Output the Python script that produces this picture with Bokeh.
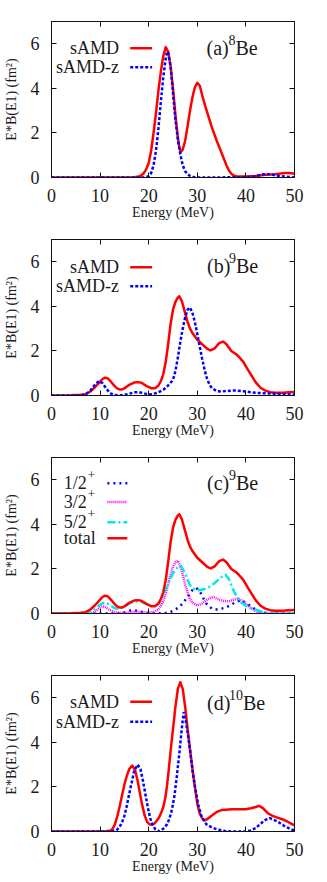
from bokeh.plotting import figure
from bokeh.models import Range1d, FixedTicker, LinearAxis, Label, Arrow, CustomJSTickFormatter
from bokeh.layouts import column
from bokeh.embed import file_html
from bokeh.resources import INLINE

# ---------------- data ----------------
x_ticks = [0, 10, 20, 30, 40, 50]
y_ticks = [0, 2, 4, 6]
x_label = "Energy (MeV)"
y_label = "E*B(E1) (fm²)"

# (a) 8Be
a_samd_E = [0, 16, 17, 18, 18.5, 19, 19.5, 20, 20.5, 21, 21.5, 22, 22.5, 23, 23.5, 24, 24.5, 25, 25.5, 26,
            26.3, 26.6, 27, 27.5, 28, 28.5, 29, 29.5, 30, 30.5, 31, 31.5, 32, 33, 34, 35, 36, 36.5, 37, 37.5,
            38, 40, 42, 44, 46, 48, 49, 50]
a_samd = [0, 0, 0.01, 0.04, 0.1, 0.2, 0.38, 0.65, 1.2, 2.0, 2.9, 3.9, 4.75, 5.45, 5.85, 5.65, 5.0, 4.0, 2.8, 1.8,
          1.35, 1.14, 1.25, 1.65, 2.3, 3.0, 3.6, 4.05, 4.25, 4.12, 3.7, 3.3, 2.95, 2.25, 1.65, 1.1, 0.55, 0.32, 0.17, 0.09,
          0.06, 0.05, 0.07, 0.12, 0.15, 0.2, 0.2, 0.17]
a_samdz_E = [0, 19, 19.5, 20, 20.5, 21, 21.5, 22, 22.5, 23, 23.5, 23.8, 24, 24.5, 25, 25.5, 26, 26.5, 27, 27.5,
             28, 28.5, 29, 30, 40, 41, 42, 43, 44, 45, 46, 47, 48, 49, 50]
a_samdz = [0, 0, 0.02, 0.06, 0.2, 0.55, 1.2, 2.2, 3.4, 4.5, 5.35, 5.65, 5.6, 5.0, 3.8, 2.6, 1.7, 1.05, 0.55, 0.28,
           0.15, 0.07, 0.02, 0, 0.01, 0.03, 0.06, 0.12, 0.15, 0.15, 0.1, 0.06, 0.04, 0.02, 0]

# (b) 9Be
b_samd_E = [0, 4, 6, 7, 8, 9, 10, 10.5, 11, 11.5, 12, 12.5, 13, 13.5, 14, 14.5, 15, 16, 17, 17.8,
            18.5, 19.5, 20.5, 21.3, 22, 22.5, 23, 23.5, 24, 24.5, 25, 25.5, 26, 26.3, 26.8, 27.3, 28, 28.5, 29, 30,
            31, 32, 32.7, 33.5, 34.5, 35.3, 36, 37, 38, 38.5, 39.5, 40.3, 41, 42, 43, 44, 45, 46, 47, 48, 49, 50]
b_samd = [0, 0.01, 0.03, 0.06, 0.18, 0.38, 0.62, 0.74, 0.8, 0.78, 0.68, 0.55, 0.42, 0.32, 0.27, 0.27, 0.32, 0.48, 0.58, 0.6,
          0.57, 0.43, 0.33, 0.32, 0.45, 0.65, 0.95, 1.5, 2.3, 3.2, 3.85, 4.2, 4.4, 4.45, 4.25, 3.85, 3.3, 3.0, 2.8, 2.5,
          2.3, 2.1, 2.02, 2.1, 2.35, 2.42, 2.3, 2.0, 1.85, 1.75, 1.5, 1.2, 0.95, 0.6, 0.35, 0.22, 0.15, 0.12, 0.12, 0.13, 0.15, 0.16]
b_samdz_E = [0, 6, 7, 8, 9, 9.8, 10.5, 11.3, 12, 12.7, 14, 15, 16, 17, 18, 19, 20, 21, 22, 23,
             24, 25, 25.5, 26, 26.5, 27, 27.5, 28, 28.5, 29, 29.5, 30, 30.5, 31, 31.5, 32, 32.5, 33, 34, 35,
             36, 37, 38, 39, 40, 41, 42, 44, 46, 48, 50]
b_samdz = [0, 0, 0.04, 0.22, 0.5, 0.65, 0.55, 0.3, 0.12, 0.03, 0, 0.03, 0.08, 0.14, 0.15, 0.1, 0.04, 0.07, 0.15, 0.25,
           0.45, 0.7, 1.1, 1.7, 2.4, 3.0, 3.5, 3.85, 3.95, 3.7, 3.3, 2.75, 2.2, 1.65, 1.15, 0.75, 0.5, 0.33, 0.2, 0.18,
           0.2, 0.22, 0.22, 0.2, 0.18, 0.15, 0.12, 0.1, 0.08, 0.06, 0.03]

# (c) 9Be, spin components
c_half_E = [0, 14, 15, 16, 17, 18, 19, 20, 22, 24, 25, 26, 27, 28, 29, 29.8, 30.5, 31.2, 32, 33,
            34, 35, 36, 37, 38, 38.9, 40, 41, 42, 43, 44, 45, 50]
c_half = [0, 0, 0.05, 0.12, 0.15, 0.1, 0.04, 0.01, 0, 0.03, 0.12, 0.25, 0.45, 0.75, 1.05, 1.15, 1.0, 0.7, 0.4, 0.22,
          0.18, 0.22, 0.28, 0.4, 0.52, 0.6, 0.48, 0.32, 0.18, 0.08, 0.03, 0, 0]
c_three_E = [0, 8, 9, 10, 10.5, 11, 12, 13, 14, 15, 16, 17, 18, 19, 20, 21, 22, 23, 23.5, 24,
             24.5, 25, 25.5, 26, 26.5, 27, 27.5, 28, 28.5, 29, 30, 31, 32, 33, 33.5, 34.5, 35.5, 36.5, 37.5, 38.3,
             39, 40, 41, 42, 43, 44, 45, 50]
c_three = [0, 0, 0.08, 0.28, 0.33, 0.3, 0.15, 0.06, 0.03, 0.03, 0.05, 0.08, 0.08, 0.05, 0.04, 0.07, 0.17, 0.55, 0.9, 1.3,
           1.75, 2.1, 2.3, 2.37, 2.1, 1.75, 1.3, 0.95, 0.65, 0.48, 0.36, 0.45, 0.62, 0.72, 0.72, 0.62, 0.56, 0.55, 0.62, 0.67,
           0.6, 0.42, 0.25, 0.1, 0.04, 0.01, 0, 0]
c_five_E = [0, 7, 8, 9, 10, 11, 12, 13, 14, 15, 16, 17, 18, 19, 20, 21, 22, 23, 24, 25,
            26, 26.6, 27.5, 28, 28.7, 29.5, 30.5, 31.5, 32.5, 33.5, 34.5, 35.3, 35.8, 36.5, 37.2, 38, 39, 40, 41, 42,
            43, 44, 45, 46, 47, 50]
c_five = [0, 0.01, 0.06, 0.2, 0.4, 0.5, 0.38, 0.24, 0.2, 0.3, 0.45, 0.54, 0.55, 0.48, 0.38, 0.32, 0.42, 0.8, 1.35, 1.8,
          2.1, 2.15, 1.8, 1.5, 1.2, 1.08, 1.04, 1.1, 1.2, 1.35, 1.55, 1.7, 1.74, 1.55, 1.15, 0.8, 0.5, 0.35, 0.24, 0.17,
          0.1, 0.05, 0.03, 0.01, 0, 0]
c_total_E = b_samd_E
c_total = b_samd

# (d) 10Be
d_samd_E = [0, 11, 12, 12.5, 13, 13.5, 14, 14.5, 15, 15.5, 16, 16.6, 17.2, 17.7, 18.2, 18.7, 19.2, 19.7, 20.2, 20.6,
            21.2, 22, 22.5, 23, 23.5, 24, 24.5, 25, 25.5, 26, 26.5, 27, 27.5, 28, 28.6, 29, 29.5, 30, 30.5, 31,
            31.5, 32, 33, 34, 35, 36, 37, 38, 39, 40, 41, 42, 42.7, 43.5, 44.5, 45.5, 46.5, 47.5, 48.5, 49.5, 50]
d_samd = [0, 0, 0.03, 0.1, 0.3, 0.65, 1.1, 1.6, 2.1, 2.5, 2.8, 2.96, 2.75, 2.3, 1.7, 1.15, 0.7, 0.42, 0.32, 0.3,
          0.36, 0.58, 0.8, 1.1, 1.6, 2.5, 3.6, 4.6, 5.6, 6.4, 6.7, 6.4, 5.6, 4.6, 3.5, 2.8, 2.0, 1.25, 0.8, 0.6,
          0.5, 0.55, 0.72, 0.88, 0.96, 0.98, 1.0, 1.0, 1.0, 1.0, 1.04, 1.1, 1.15, 1.05, 0.82, 0.7, 0.62, 0.55, 0.45, 0.33, 0.27]
d_samdz_E = [0, 12, 13, 13.5, 14, 14.5, 15, 15.5, 16, 16.5, 17, 17.7, 18.3, 18.8, 19.3, 19.8, 20.3, 20.8, 21.3, 22.2,
             23, 23.8, 24.3, 24.8, 25.3, 25.8, 26.3, 26.8, 27.2, 27.6, 28.1, 28.6, 29.1, 29.6, 30.2, 30.8, 31.5, 32, 33, 34,
             35, 36, 37, 40, 41, 42, 43, 44, 44.9, 45.5, 46.5, 47.5, 48.5, 49.5, 50]
d_samdz = [0, 0, 0.03, 0.08, 0.2, 0.4, 0.7, 1.15, 1.7, 2.2, 2.7, 3.0, 2.8, 2.3, 1.7, 1.1, 0.6, 0.3, 0.12, 0.0,
           0.12, 0.33, 0.6, 1.0, 1.6, 2.5, 3.5, 4.6, 5.36, 5.0, 4.3, 3.5, 2.6, 1.9, 1.2, 0.72, 0.42, 0.3, 0.18, 0.1,
           0.05, 0.01, 0, 0, 0.05, 0.15, 0.35, 0.52, 0.6, 0.55, 0.45, 0.3, 0.18, 0.08, 0.05]

# ---------------- style ----------------
FONT = "'Liberation Serif', 'Times New Roman', serif"
TXT = "#1a1a1a"
FRAME = "#111111"
RED, BLUE, MAG, CYAN = "#ff0000", "#0000ff", "#ff00ff", "#00e8e8"
LW = 2.5


def style_axis(ax, standoff):
    ax.major_tick_in = 5
    ax.major_tick_out = 0
    ax.minor_tick_in = 0
    ax.minor_tick_out = 0
    ax.axis_line_color = FRAME
    ax.major_tick_line_color = FRAME
    ax.major_label_standoff = standoff
    ax.major_label_text_font = FONT
    ax.major_label_text_font_size = "18px"
    ax.major_label_text_color = TXT
    ax.axis_label_text_font = FONT
    ax.axis_label_text_font_style = "normal"
    ax.axis_label_text_font_size = "14px"
    ax.axis_label_text_color = TXT


def hidden_axis(ticks):
    ax = LinearAxis(ticker=FixedTicker(ticks=ticks), formatter=CustomJSTickFormatter(code="return ''"))
    style_axis(ax, 0)
    ax.major_label_text_font_size = "1px"
    return ax


def base_fig(top_border):
    p = figure(frame_width=243, frame_height=156, x_range=Range1d(0, 50), y_range=Range1d(0, 7),
               output_backend="svg", toolbar_location=None,
               min_border_left=51, min_border_right=25, min_border_top=top_border, min_border_bottom=49,
               background_fill_color="white", border_fill_color="white")
    p.grid.visible = False
    p.outline_line_color = FRAME
    p.outline_line_width = 1
    p.xaxis.ticker = FixedTicker(ticks=x_ticks)
    p.yaxis.ticker = FixedTicker(ticks=y_ticks)
    style_axis(p.xaxis[0], 11)
    style_axis(p.yaxis[0], 12)
    p.xaxis.axis_label = x_label
    p.yaxis.axis_label = y_label
    p.xaxis.axis_label_standoff = 0
    p.yaxis.axis_label_standoff = 9
    p.add_layout(hidden_axis(x_ticks), "above")
    p.add_layout(hidden_axis(y_ticks), "right")
    return p


def add_title(p, pre, sup, post, x, y, sup_w):
    p.add_layout(Label(x=x, y=y, text=pre, text_font=FONT, text_font_size="20px", text_color=TXT,
                       text_baseline="middle"))
    p.add_layout(Label(x=x, y=y, x_offset=22, y_offset=8, text=sup, text_font=FONT, text_font_size="14px",
                       text_color=TXT, text_baseline="middle"))
    p.add_layout(Label(x=x, y=y, x_offset=22 + sup_w, text=post, text_font=FONT, text_font_size="20px",
                       text_color=TXT, text_baseline="middle"))


def add_key(p, text, x_text, align, y, x0, x1, color, dash, sup=None, sup_dx=0):
    p.add_layout(Label(x=x_text, y=y, text=text, text_font=FONT, text_font_size="18px", text_color=TXT,
                       text_align=align, text_baseline="middle"))
    if sup:
        p.add_layout(Label(x=x_text, y=y, x_offset=sup_dx, y_offset=8, text=sup, text_font=FONT,
                           text_font_size="13px", text_color=TXT, text_baseline="middle"))
    p.add_layout(Arrow(start=None, end=None, x_start=x0, y_start=y, x_end=x1, y_end=y,
                       line_color=color, line_width=LW, line_dash=dash))


DOT = "3 2"

# (a)
pa = base_fig(21)
pa.line(a_samd_E, a_samd, line_color=RED, line_width=LW, line_join="round")
pa.line(a_samdz_E, a_samdz, line_color=BLUE, line_width=LW, line_dash=DOT)
add_key(pa, "sAMD", 13.9, "right", 5.8, 16.2, 20.7, RED, "solid")
add_key(pa, "sAMD-z", 13.9, "right", 4.95, 16.2, 20.7, BLUE, DOT)
add_title(pa, "(a)", "8", "Be", 31.9, 5.8, 7)

# (b)
pb = base_fig(13)
pb.line(b_samd_E, b_samd, line_color=RED, line_width=LW, line_join="round")
pb.line(b_samdz_E, b_samdz, line_color=BLUE, line_width=LW, line_dash=DOT)
add_key(pb, "sAMD", 13.9, "right", 5.75, 16.2, 20.7, RED, "solid")
add_key(pb, "sAMD-z", 13.9, "right", 4.9, 16.2, 20.7, BLUE, DOT)
add_title(pb, "(b)", "9", "Be", 32.0, 5.8, 7)

# (c)
pc = base_fig(13)
pc.line(c_half_E, c_half, line_color=BLUE, line_width=LW, line_dash="2 4")
pc.line(c_three_E, c_three, line_color=MAG, line_width=LW, line_dash="1 1")
pc.line(c_five_E, c_five, line_color=CYAN, line_width=LW, line_dash="8 3 2 3")
pc.line(c_total_E, c_total, line_color=RED, line_width=LW, line_join="round")
add_key(pc, "1/2", 2.5, "left", 5.85, 11.5, 15.6, BLUE, "2 4", "+", 24)
add_key(pc, "3/2", 2.5, "left", 5.0, 11.5, 15.6, MAG, "1 1", "+", 24)
add_key(pc, "5/2", 2.5, "left", 4.1, 11.5, 15.6, CYAN, "8 3 2 3", "+", 24)
add_key(pc, "total", 2.5, "left", 3.38, 11.5, 15.6, RED, "solid")
add_title(pc, "(c)", "9", "Be", 32.0, 5.85, 7)

# (d)
pd = base_fig(13)
pd.line(d_samd_E, d_samd, line_color=RED, line_width=LW, line_join="round")
pd.line(d_samdz_E, d_samdz, line_color=BLUE, line_width=LW, line_dash=DOT)
add_key(pd, "sAMD", 13.9, "right", 5.82, 16.2, 20.7, RED, "solid")
add_key(pd, "sAMD-z", 13.9, "right", 4.92, 16.2, 20.7, BLUE, DOT)
add_title(pd, "(d)", "10", "Be", 32.0, 5.78, 14)

layout = column(pa, pb, pc, pd, spacing=0)
open("out.html", "w").write(file_html(layout, INLINE))
